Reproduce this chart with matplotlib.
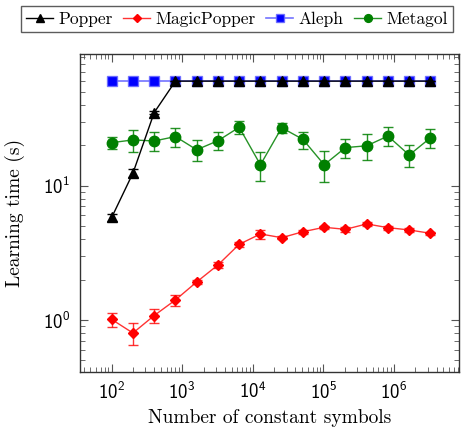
import matplotlib
matplotlib.use("Agg")
import matplotlib.pyplot as plt
import numpy as np
from matplotlib.ticker import LogLocator, NullFormatter, LogFormatterSciNotation

plt.rcParams['font.family'] = 'cmss10'
plt.rcParams['mathtext.fontset'] = 'cm'
plt.rcParams['axes.formatter.use_mathtext'] = True
plt.rcParams['axes.unicode_minus'] = False

SERIF = 'cmr10'

x_vals = [100 * 2 ** k for k in range(16)]

popper_y = [5.8, 12.4, 35.0, 60, 60, 60, 60, 60, 60, 60, 60, 60, 60, 60, 60, 60]
popper_err = [0.35, 0.8, 1.0, 0, 0, 0, 0, 0, 0, 0, 0, 0, 0, 0, 0, 0]

magic_y = [1.01, 0.80, 1.08, 1.41, 1.92, 2.57, 3.66, 4.37, 4.10, 4.54, 4.90, 4.73, 5.19, 4.87, 4.68, 4.42]
magic_err = [0.12, 0.15, 0.13, 0.13, 0.07, 0.15, 0.15, 0.33, 0.12, 0.15, 0.15, 0.18, 0.2, 0.18, 0.18, 0.12]

aleph_y = [60] * 16

metagol_y = [20.9, 21.9, 21.5, 23.2, 18.5, 21.6, 27.2, 14.3, 27.0, 22.1, 14.3, 19.2, 19.8, 23.4, 16.9, 22.7]
metagol_err = [2.2, 4.0, 3.5, 3.7, 3.3, 3.3, 3.0, 3.5, 2.2, 3.2, 3.7, 3.0, 4.4, 3.7, 3.2, 3.6]

labels = ["Popper", "MagicPopper", "Aleph", "Metagol"]

fig = plt.figure(figsize=(4.64, 4.30), dpi=100)
ax = fig.add_axes([80/464, 1-372/430, (459-80)/464, (372-54)/430])

red = (1, 0, 0)
green = (0, 0.5, 0)
blue = (0, 0, 1)

# Aleph
ax.plot(x_vals, aleph_y, color=(0, 0, 1, 0.55), lw=1.2, marker='s', ms=7.5,
        mfc=blue, mec=(0.4, 0.4, 1, 0.8), mew=1, label=labels[2], zorder=3)
# MagicPopper
ax.errorbar(x_vals, magic_y, yerr=magic_err, fmt='none', ecolor=(1, 0, 0, 0.8),
            elinewidth=1, capsize=3.5, capthick=1, zorder=2)
ax.plot(x_vals, magic_y, color=(1, 0, 0, 0.8), lw=1, marker='D', ms=5,
        mfc=red, mec=red, label=labels[1], zorder=3)
# Metagol
ax.errorbar(x_vals, metagol_y, yerr=metagol_err, fmt='none', ecolor=(0, 0.5, 0, 0.85),
            elinewidth=1, capsize=3.5, capthick=1, zorder=2)
ax.plot(x_vals, metagol_y, color=(0, 0.5, 0, 0.85), lw=1, marker='o', ms=7.5,
        mfc=green, mec=green, label=labels[3], zorder=3)
# Popper
ax.errorbar(x_vals, popper_y, yerr=popper_err, fmt='none', ecolor='black',
            elinewidth=1, capsize=3.5, capthick=1, zorder=4)
ax.plot(x_vals, popper_y, color='black', lw=1, marker='^', ms=7,
        mfc='black', mec='black', label=labels[0], zorder=5)

ax.set_xscale('log')
ax.set_yscale('log')
ax.set_xlim(10 ** 1.551, 10 ** 6.92)
ax.set_ylim(10 ** -0.387, 10 ** 1.98)

ax.xaxis.set_major_locator(LogLocator(base=10, numticks=20))
ax.xaxis.set_minor_locator(LogLocator(base=10, subs=range(2, 10), numticks=100))
ax.yaxis.set_major_locator(LogLocator(base=10, numticks=20))
ax.yaxis.set_minor_locator(LogLocator(base=10, subs=range(2, 10), numticks=100))
ax.xaxis.set_major_formatter(LogFormatterSciNotation())
ax.yaxis.set_major_formatter(LogFormatterSciNotation())
ax.xaxis.set_minor_formatter(NullFormatter())
ax.yaxis.set_minor_formatter(NullFormatter())

ax.tick_params(which='both', direction='in', top=True, right=True, color='#555555')
ax.tick_params(which='major', length=6, width=0.8, labelsize=13.5, pad=7)
ax.tick_params(which='minor', length=3.5, width=0.6)
for s in ax.spines.values():
    s.set_linewidth(1.0)
    s.set_color('#333333')

ax.set_xlabel("Number of constant symbols", fontsize=14, labelpad=4, fontfamily=SERIF)
ax.set_ylabel("Learning time (s)", fontsize=14, fontfamily=SERIF)
ax.yaxis.set_label_coords(-0.145, 0.5)

handles, labs = ax.get_legend_handles_labels()
order = [labs.index(l) for l in labels]
leg = fig.legend([handles[i] for i in order], [labs[i] for i in order],
                 loc='lower left', mode='expand',
                 bbox_to_anchor=(21/464, 1-32/430, 432/464, 28/430), ncol=4,
                 prop={'family': SERIF, 'size': 12.5},
                 frameon=True, fancybox=False, edgecolor='#333333',
                 handlelength=1.55, handletextpad=0.3, columnspacing=0.3,
                 borderpad=0.3, borderaxespad=0, markerscale=0.75)
leg.get_frame().set_linewidth(1.0)

fig.savefig("out.png", dpi=100)
